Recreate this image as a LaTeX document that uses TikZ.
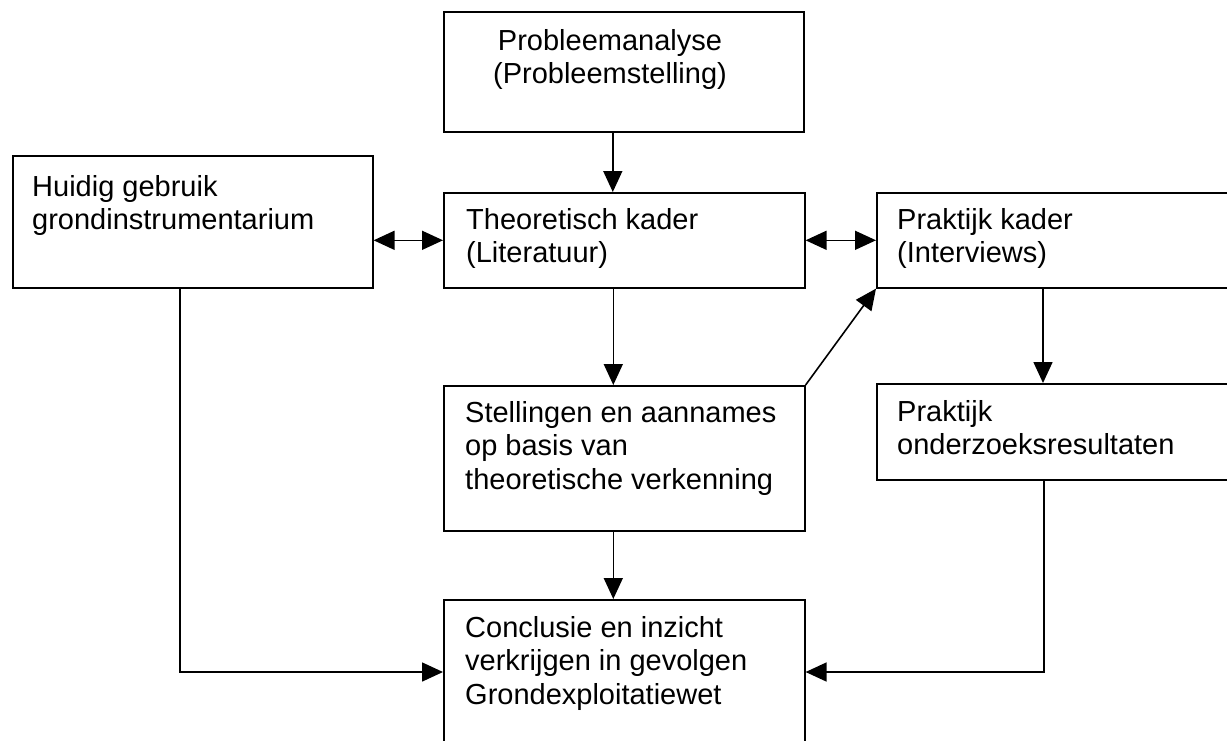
\documentclass[tikz,border=0pt]{standalone}
\usepackage{fontspec}
\setmainfont{Liberation Sans}
\usetikzlibrary{arrows.meta,calc}
\begin{document}
\begin{tikzpicture}[x=1pt,y=-1pt,
  box/.style={draw=black,line width=1.6pt,fill=none,inner sep=0pt,anchor=north west,minimum width=#1},
  txt/.style={anchor=north west,inner sep=0pt,align=left,font=\fontsize{29}{33.5}\selectfont},
  ctxt/.style={anchor=north,inner sep=0pt,align=center,font=\fontsize{29}{33.5}\selectfont},
  conn/.style={line width=1.6pt,-{Triangle[length=21pt,width=19pt]}},
  dconn/.style={line width=1.6pt,{Triangle[length=21pt,width=19pt]}-{Triangle[length=21pt,width=19pt]}},
  plain/.style={line width=1.6pt}]
\useasboundingbox (0,0) rectangle (1227,740);
\clip (0,0) rectangle (1227,740);
\fill[white] (0,0) rectangle (1227,740);
% boxes
\node[box=360pt,minimum height=120pt] (prob) at (443,11) {};
\node[box=360pt,minimum height=132pt] (huidig) at (12,155) {};
\node[box=361pt,minimum height=95pt] (theo) at (443,192) {};
\node[box=370pt,minimum height=95pt] (kader) at (876,192) {};
\node[box=361pt,minimum height=145pt] (stel) at (443,385) {};
\node[box=370pt,minimum height=96pt] (onder) at (876,383) {};
\node[box=361pt,minimum height=170pt] (concl) at (443,599) {};
% texts
\node[ctxt] (probt) at (610,29) {Probleemanalyse\\(Probleemstelling)};
\node[txt] (huidigt) at (32,175) {Huidig gebruik\\grondinstrumentarium};
\node[txt] (theot) at (466,208) {Theoretisch kader\\(Literatuur)};
\node[txt] (kadert) at (897,208) {Praktijk kader\\(Interviews)};
\node[txt] (stelt) at (465,401) {Stellingen en aannames\\op basis van\\theoretische verkenning};
\node[txt] (ondert) at (897,400) {Praktijk\\onderzoeksresultaten};
\node[txt] (conclt) at (465,616) {Conclusie en inzicht\\verkrijgen in gevolgen\\Grondexploitatiewet};
% connectors
\draw[conn] ([xshift=-11pt]prob.south) -- ([xshift=-11pt]prob.south |- theo.north);
\draw[conn] ([xshift=-11pt]theo.south) -- ([xshift=-11pt]theo.south |- stel.north);
\draw[conn] ([xshift=-11pt]stel.south) -- ([xshift=-11pt]stel.south |- concl.north);
\draw[dconn] (theo.west -| huidig.east) -- (theo.west);
\draw[dconn] (theo.east) -- (kader.west);
\draw[conn] (stel.north east) -- (kader.south west);
\coordinate (kd) at ($(kader.south west)+(167,0)$);
\draw[conn] (kd) -- (kd |- onder.north);
\coordinate (hd) at ($(huidig.south west)+(168,0)$);
\draw[conn] (hd) -- (hd |- 0,672) -- (concl.west |- 0,672);
\coordinate (od) at ($(onder.south west)+(168,0)$);
\draw[conn] (od) -- (od |- 0,672) -- (concl.east |- 0,672);
\end{tikzpicture}
\end{document}
